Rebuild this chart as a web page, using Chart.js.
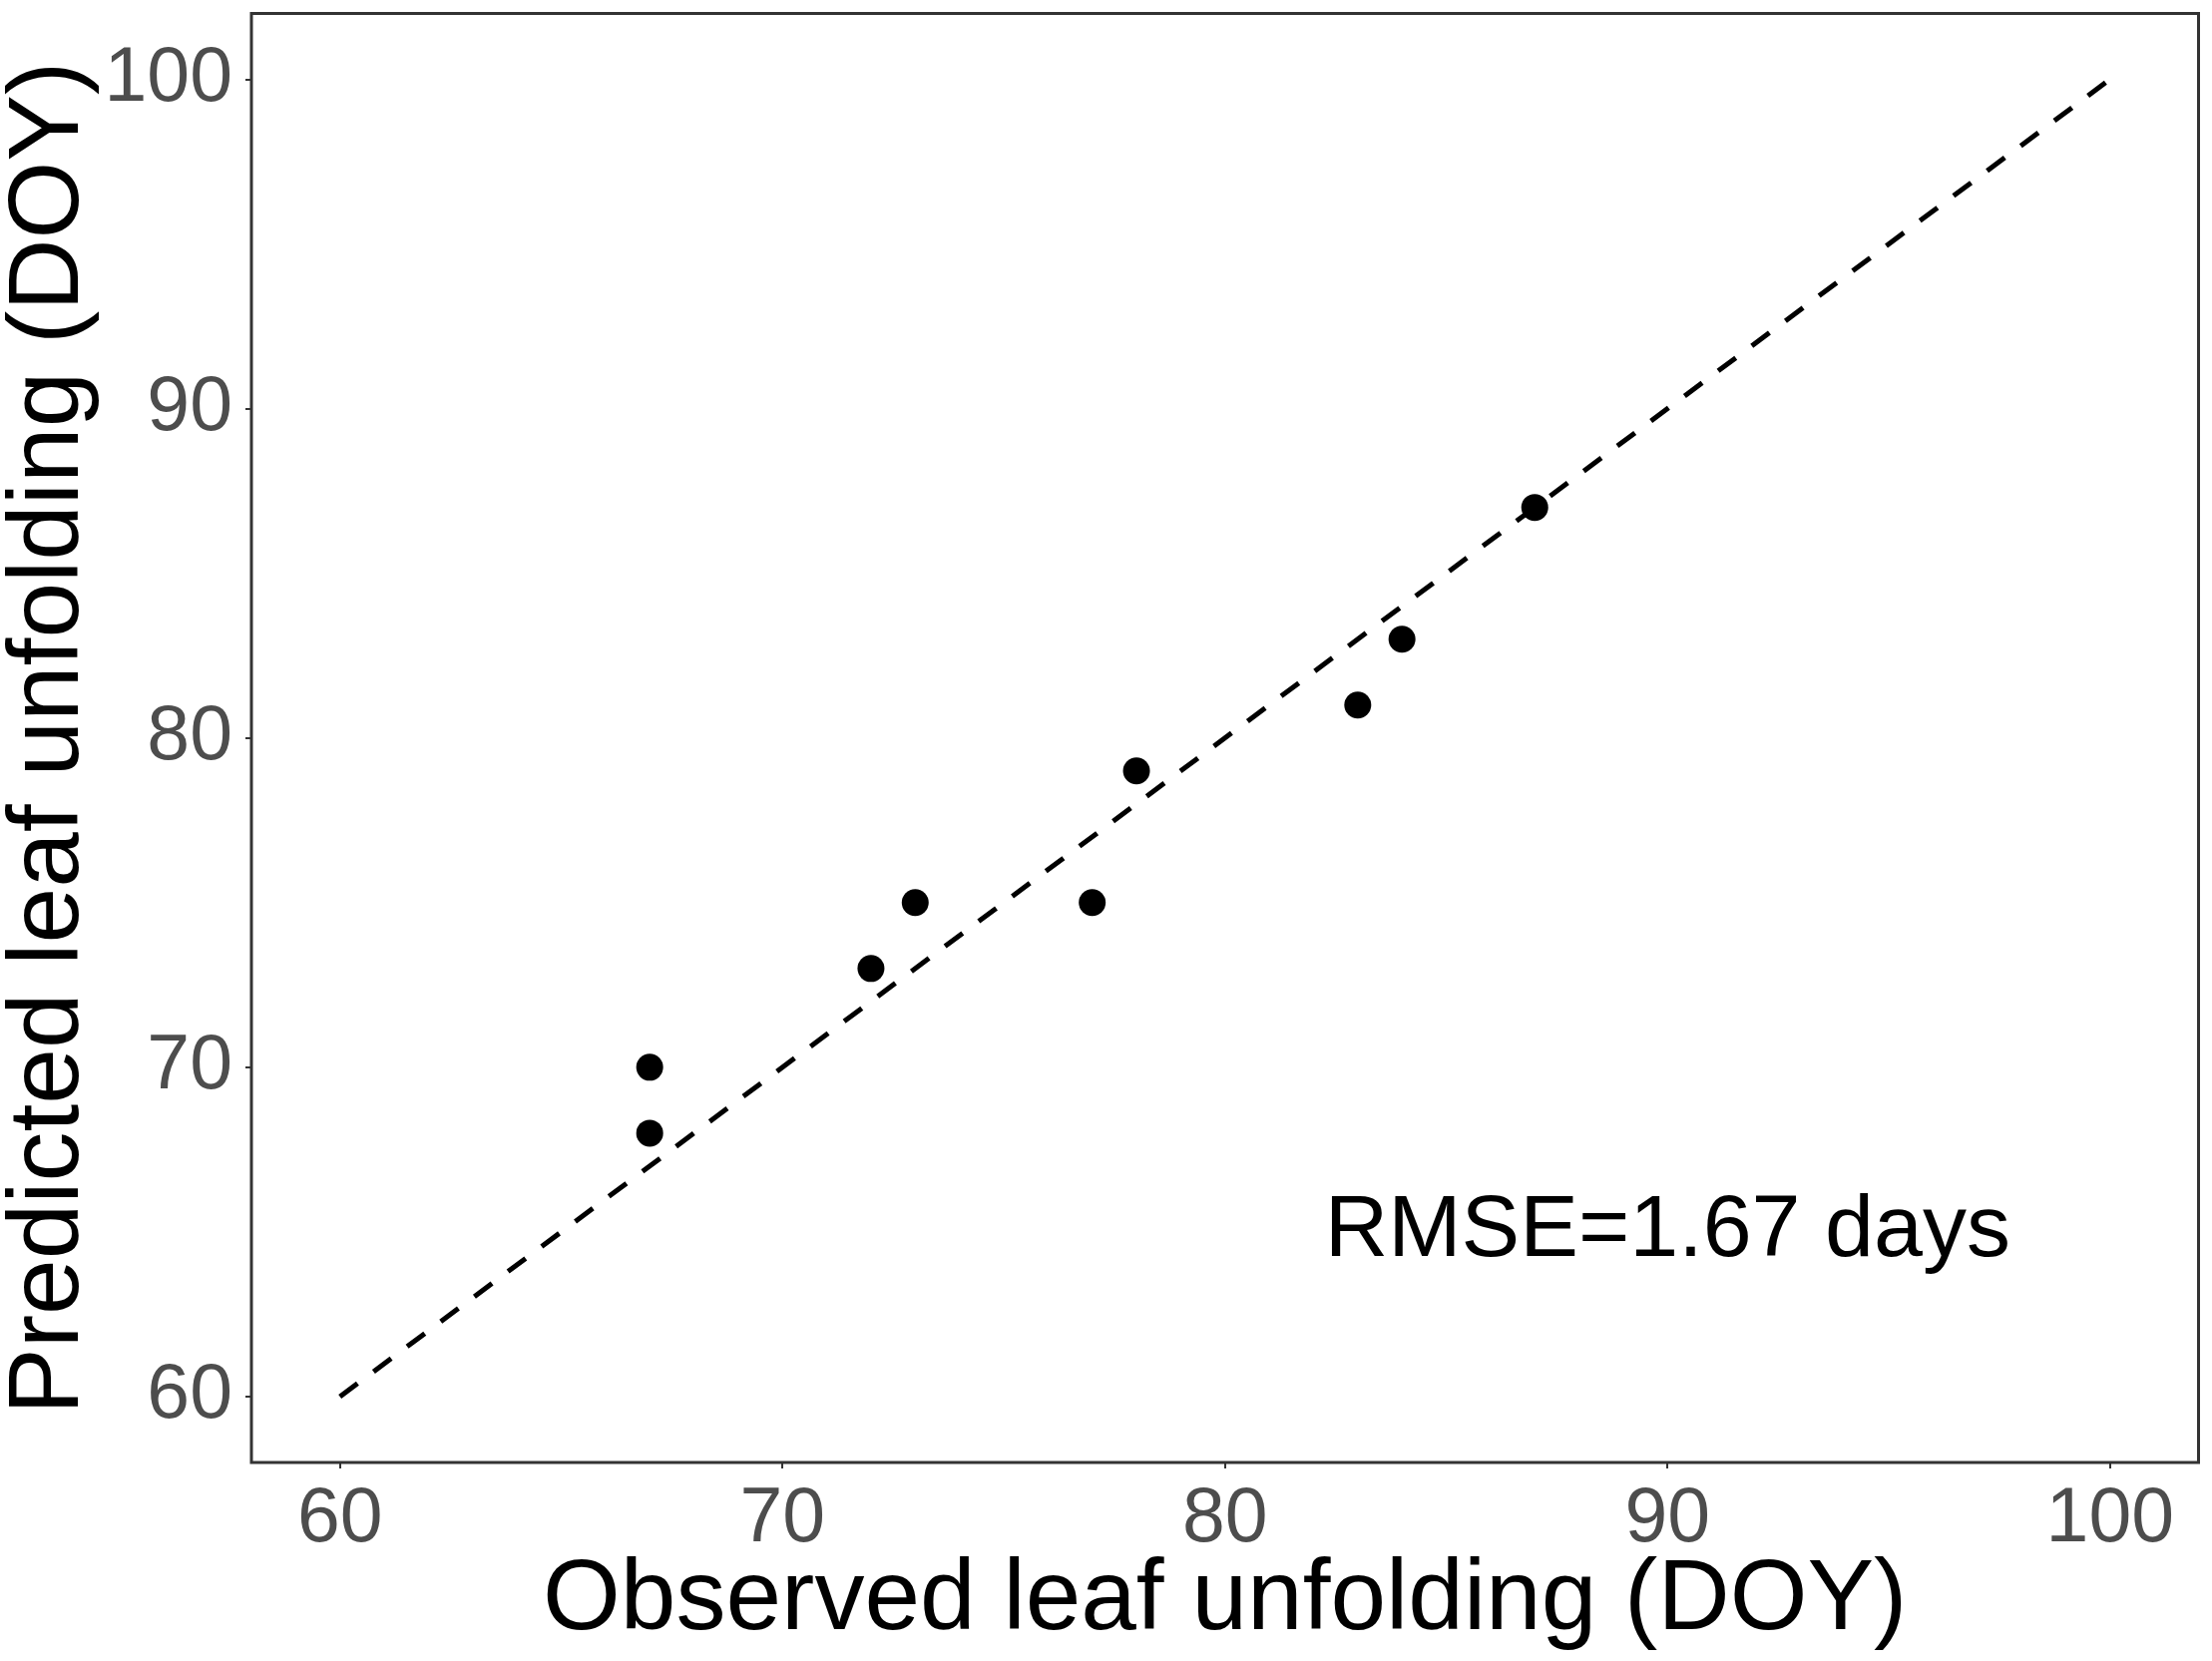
<!DOCTYPE html>
<html>
<head>
<meta charset="utf-8">
<script src="https://cdn.jsdelivr.net/npm/chart.js@4.4.1/dist/chart.umd.min.js"></script>
<style>
  html, body { margin: 0; padding: 0; background: #fff; }
  #wrap { width: 2217px; height: 1665px; }
</style>
</head>
<body>
<div id="wrap"><canvas id="scatterChart" width="2217" height="1665"></canvas></div>
<script>
// valori (DOY)
const observed = [67, 67, 72, 73, 77, 78, 83, 84, 87];
const predicted = [70, 68, 73, 75, 75, 79, 81, 83, 87];

// linea 1:1
const lineX = [60, 100];
const lineY = [60, 100];

// tick degli assi
const xTicks = [60, 70, 80, 90, 100];
const yTicks = [60, 70, 80, 90, 100];
const axisRange = [58, 102];

// etichetta RMSE (coordinate nei dati)
const rmseText = "RMSE=1.67 days";
const rmsePos = [90, 65];

document.addEventListener("DOMContentLoaded", function () {
    const fontFamily = "'Liberation Sans', Arial, sans-serif";
    Chart.defaults.font.family = fontFamily;

    // bordo del pannello + testo RMSE
    const panelPlugin = {
        id: 'panel',
        afterDatasetsDraw(chart) {
            const { ctx, chartArea, scales } = chart;
            ctx.save();
            ctx.fillStyle = '#000';
            ctx.font = "88px " + fontFamily;
            ctx.textAlign = 'center';
            ctx.textBaseline = 'middle';
            ctx.fillText(rmseText, scales.x.getPixelForValue(rmsePos[0]), scales.y.getPixelForValue(rmsePos[1]));

            ctx.strokeStyle = '#333333';
            ctx.lineWidth = 3;
            ctx.strokeRect(chartArea.left, chartArea.top, chartArea.right - chartArea.left, chartArea.bottom - chartArea.top);
            ctx.restore();
        }
    };

    const ctx = document.getElementById('scatterChart').getContext('2d');
    new Chart(ctx, {
        type: 'scatter',
        data: {
            datasets: [
                {
                    label: 'Osservato vs previsto',
                    data: observed.map((v, i) => ({ x: v, y: predicted[i] })),
                    backgroundColor: '#000',
                    borderWidth: 0,
                    pointRadius: 13.5,
                    pointHoverRadius: 13.5
                },
                {
                    label: '1:1',
                    type: 'line',
                    data: lineX.map((v, i) => ({ x: v, y: lineY[i] })),
                    borderColor: '#000',
                    borderWidth: 5,
                    borderDash: [22, 20],
                    pointRadius: 0,
                    fill: false
                }
            ]
        },
        options: {
            responsive: false,
            animation: false,
            devicePixelRatio: 1,
            layout: {
                padding: { top: 9, right: 10, left: 0, bottom: 0 }
            },
            plugins: {
                legend: { display: false },
                tooltip: { enabled: false }
            },
            scales: {
                x: {
                    type: 'linear',
                    min: axisRange[0],
                    max: axisRange[1],
                    afterBuildTicks: (scale) => { scale.ticks = xTicks.map(v => ({ value: v })); },
                    afterFit: (scale) => {
                        scale.height = 199;
                        scale.paddingLeft = 0;
                        scale.paddingRight = 0;
                    },
                    grid: { drawOnChartArea: false, drawTicks: true, tickLength: 6, color: '#333', lineWidth: 2 },
                    border: { display: false },
                    ticks: {
                        color: '#4d4d4d',
                        padding: 6,
                        maxRotation: 0,
                        font: { size: 77 }
                    },
                    title: {
                        display: true,
                        text: 'Observed leaf unfolding (DOY)',
                        color: '#000',
                        padding: 0,
                        font: { size: 100, lineHeight: 1.2 }
                    }
                },
                y: {
                    type: 'linear',
                    min: axisRange[0],
                    max: axisRange[1],
                    afterBuildTicks: (scale) => { scale.ticks = yTicks.map(v => ({ value: v })); },
                    afterFit: (scale) => {
                        scale.width = 252;
                        scale.paddingTop = 0;
                        scale.paddingBottom = 0;
                    },
                    grid: { drawOnChartArea: false, drawTicks: true, tickLength: 6, color: '#333', lineWidth: 2 },
                    border: { display: false },
                    ticks: {
                        color: '#4d4d4d',
                        padding: 13,
                        font: { size: 77 }
                    },
                    title: {
                        display: true,
                        text: 'Predicted leaf unfolding (DOY)',
                        color: '#000',
                        padding: 0,
                        font: { size: 100, lineHeight: 1.0 }
                    }
                }
            }
        },
        plugins: [panelPlugin]
    });
});
</script>
</body>
</html>
